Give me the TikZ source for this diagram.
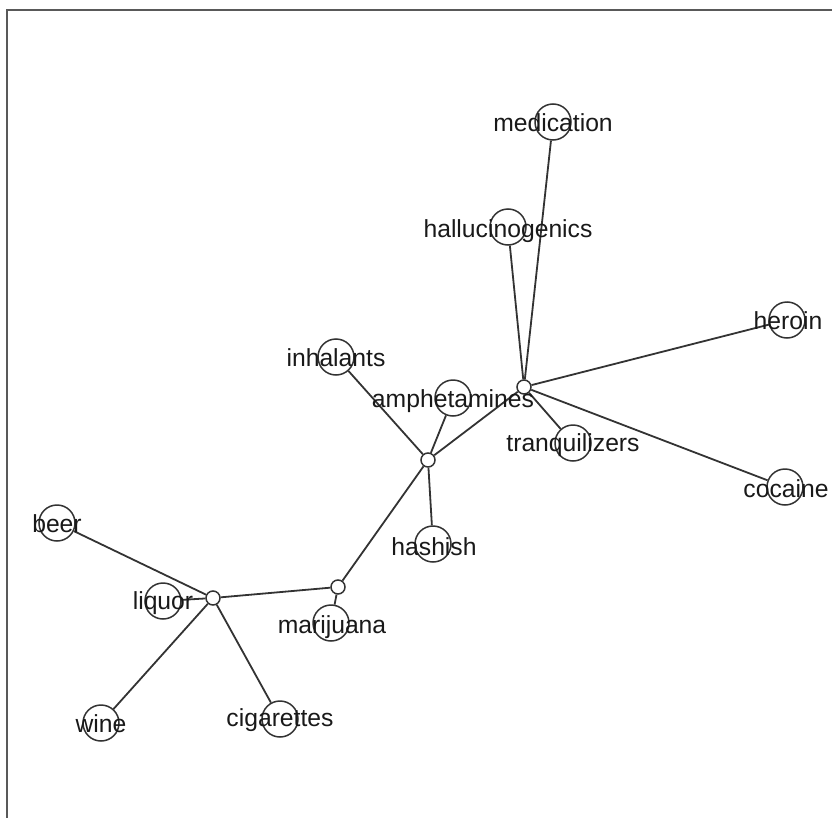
\documentclass[tikz,border=0pt]{standalone}
\usepackage{fontspec}
\setmainfont{Liberation Sans}
\begin{document}
\begin{tikzpicture}[x=1bp,y=-1bp,
  vert/.style={circle,draw=black!80,fill=white,line width=1.5bp,minimum size=36bp,inner sep=0pt},
  junc/.style={circle,draw=black!80,fill=white,line width=1.5bp,minimum size=14bp,inner sep=0pt},
  lbl/.style={font=\fontsize{24.8}{28}\selectfont,text=black!90,inner sep=0pt},
  edge/.style={draw=black!80,line width=1.8bp}]
\useasboundingbox (0,0) rectangle (832,818);
\draw[black!65,line width=2bp] (6.5,820) -- (6.5,10) -- (834,10);
% vertices
\node[vert] (medication) at (553,122) {};
\node[vert] (halluc) at (508,227) {};
\node[vert] (heroin) at (787,320) {};
\node[vert] (cocaine) at (785,487) {};
\node[vert] (amph) at (453,398) {};
\node[vert] (tranq) at (573,443) {};
\node[vert] (inhal) at (336,357) {};
\node[vert] (hashish) at (433,544) {};
\node[vert] (marij) at (331,623) {};
\node[vert] (liquor) at (163,601) {};
\node[vert] (beer) at (57,523) {};
\node[vert] (wine) at (101,723) {};
\node[vert] (cig) at (280,719) {};
\node[junc] (j1) at (524,387) {};
\node[junc] (j2) at (428,460) {};
\node[junc] (j3) at (338,587) {};
\node[junc] (j4) at (213,598) {};
% edges
\path[edge] (j1) -- (medication);
\path[edge] (j1) -- (halluc);
\path[edge] (j1) -- (heroin);
\path[edge] (j1) -- (cocaine);
\path[edge] (j1) -- (tranq);
\path[edge] (j1) -- (j2);
\path[edge] (j2) -- (amph);
\path[edge] (j2) -- (inhal);
\path[edge] (j2) -- (hashish);
\path[edge] (j2) -- (j3);
\path[edge] (j3) -- (marij);
\path[edge] (j3) -- (j4);
\path[edge] (j4) -- (beer);
\path[edge] (j4) -- (liquor);
\path[edge] (j4) -- (wine);
\path[edge] (j4) -- (cig);
% labels
\node[lbl] (tmedication) at (553,123) {medication};
\node[lbl] (thalluc) at (508,231) {hallucinogenics};
\node[lbl] (theroin) at (788,321) {heroin};
\node[lbl] (tcocaine) at (786,489) {cocaine};
\node[lbl] (tamph) at (453,401) {amphetamines};
\node[lbl] (ttranq) at (573,445) {tranquilizers};
\node[lbl] (tinhal) at (336,358) {inhalants};
\node[lbl] (thashish) at (434,547) {hashish};
\node[lbl] (tmarij) at (332,627) {marijuana};
\node[lbl] (tliquor) at (163,603) {liquor};
\node[lbl] (tbeer) at (57,524) {beer};
\node[lbl] (twine) at (101,724) {wine};
\node[lbl] (tcig) at (280,720) {cigarettes};
\end{tikzpicture}
\end{document}
